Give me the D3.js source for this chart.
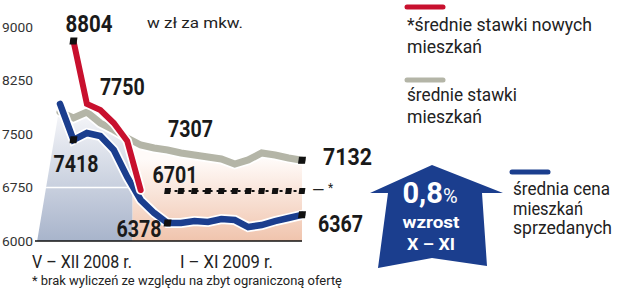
<!DOCTYPE html>
<html lang="pl">
<head>
<meta charset="UTF-8">
<title>Ceny mieszkań</title>
<script src="https://cdnjs.cloudflare.com/ajax/libs/d3/7.8.5/d3.min.js"></script>
<style>
  body { margin: 0; background: #fff; }
  text { font-family: Roboto, "Open Sans", sans-serif; }
</style>
</head>
<body>
<div id="chart"></div>
<script>
// miesiące od V 2008 (indeks 0) do XI 2009 (indeks 18)
const months = ["V","VI","VII","VIII","IX","X","XI","XII","I","II","III","IV","V","VI","VII","VIII","IX","X","XI"]
const newFlatRates = [null, 8804, 7921, 7836, 7654, 7402, 6715, null, null, null, null, null, null, null, null, null, null, null, null]
const flatRates = [7808, 7724, 7808, 7654, 7556, 7444, 7346, 7304, 7276, 7234, 7206, 7178, 7150, 7079, 7136, 7234, 7206, 7164, 7132]
const soldPrices = [7921, 7418, 7514, 7472, 7276, 6897, 6575, 6393, 6252, 6252, 6280, 6266, 6308, 6294, 6196, 6224, 6280, 6322, 6367]
const newFlat2009 = [6701, 6701, 6701, 6701, 6701, 6701, 6701, 6701, 6701, 6701, 6701]
const yTicks = [6000, 6750, 7500, 8250, 9000]
const periods = ["V – XII 2008 r.", "I – XI 2009 r."]

const W = 631, H = 297
const RED = "#c8102e", GRAY = "#b4b5a7", BLUE = "#1b3e8e"

const svg = d3.select("#chart").append("svg").attr("width", W).attr("height", H)
svg.append("rect").attr("width", W).attr("height", H).attr("fill", "#fff")

const x = d3.scaleLinear().domain([0, 18]).range([60, 302])
const y = d3.scaleLinear().domain([6000, 9000]).range([241, 27])

// cieniowanie pod liniami
const defs = svg.append("defs")
function grad(id, from, c1, c2) {
  const g = defs.append("linearGradient").attr("id", id)
    .attr("gradientUnits", "userSpaceOnUse")
    .attr("x1", 0).attr("x2", 0).attr("y1", y(from)).attr("y2", y(6000))
  g.append("stop").attr("offset", 0).attr("stop-color", c1)
  g.append("stop").attr("offset", 1).attr("stop-color", c2)
}
grad("g2008", 7800, "#f5f6f9", "#a8b4cb")
grad("g2009", 7150, "#fffbf9", "#f0c4ad")

const shadeTop = months.map((m, i) => ({ i, v: Math.max(flatRates[i], soldPrices[i]) }))
shadeTop.unshift({ i: -1.7, v: 6000 })
const area = d3.area().x(d => x(d.i)).y0(y(6000)).y1(d => y(d.v))
defs.append("clipPath").attr("id", "shade").append("path").attr("d", area(shadeTop))

const split = x(5.4)
const shade = svg.append("g").attr("clip-path", "url(#shade)")
shade.append("rect").attr("x", 0).attr("y", 0).attr("width", split).attr("height", y(6000)).attr("fill", "url(#g2008)")
shade.append("rect").attr("x", split).attr("y", 0).attr("width", x(18) - split).attr("height", y(6000)).attr("fill", "url(#g2009)")
shade.append("line").attr("x1", 0).attr("x2", split).attr("y1", y(6750)).attr("y2", y(6750))
  .attr("stroke", "#fff").attr("stroke-width", 1.5)

// oś Y
const yAxis = svg.append("g").attr("transform", "translate(34,0)")
  .call(d3.axisLeft(y).tickValues(yTicks).tickSize(0).tickPadding(1).tickFormat(d3.format("d")))
yAxis.select(".domain").remove()
yAxis.selectAll("text").attr("font-size", 13).attr("fill", "#333")
  .attr("font-family", "'Open Sans', sans-serif").attr("textLength", 31).attr("lengthAdjust", "spacingAndGlyphs")
svg.append("line").attr("x1", 35).attr("x2", x(18)).attr("y1", y(6000)).attr("y2", y(6000))
  .attr("stroke", "#111").attr("stroke-width", 1.6)

// linie
const line = d3.line().defined(d => d != null).x((d, i) => x(i)).y(d => y(d))
function drawLine(data, color, w) {
  svg.append("path").attr("d", line(data)).attr("fill", "none").attr("stroke", "#fff")
    .attr("stroke-width", w + 3.5).attr("stroke-linejoin", "miter").attr("stroke-linecap", "round")
  svg.append("path").attr("d", line(data)).attr("fill", "none").attr("stroke", color)
    .attr("stroke-width", w).attr("stroke-linejoin", "miter").attr("stroke-linecap", "round")
}
drawLine(flatRates, GRAY, 7)
drawLine(soldPrices, BLUE, 6.5)
drawLine(newFlatRates, RED, 6)

// linia przerywana 2009
const dashLine = d3.line().x((d, i) => x(i + 8)).y(d => y(d))
svg.append("path").attr("d", dashLine(newFlat2009)).attr("fill", "none").attr("stroke", "#111")
  .attr("stroke-width", 2).attr("stroke-dasharray", "3,4")
function marker(cx, cy, s) {
  svg.append("rect").attr("x", cx - s / 2).attr("y", cy - s / 2).attr("width", s).attr("height", s)
    .attr("fill", "#111").attr("transform", `skewX(-8) translate(${cy * Math.tan(8 * Math.PI / 180)},0)`)
}
newFlat2009.forEach((v, i) => marker(x(i + 8), y(v), 6))
svg.append("text").attr("x", x(18) + 10).attr("y", y(6701) + 5).attr("font-size", 16).attr("fill", "#222").text("—")
svg.append("text").attr("x", x(18) + 26).attr("y", y(6701) + 1).attr("font-size", 12).attr("fill", "#222").text("*")

// punkty z podpisami
const notes = [
  { s: newFlatRates, i: 1, dx: -8, dy: -9, w: 47, m: true },
  { s: newFlatRates, i: 2, dx: 13, dy: -9, w: 45, m: false },
  { s: flatRates, i: 7, dx: 14, dy: -11, w: 45, m: false },
  { s: soldPrices, i: 1, dx: -20, dy: 32, w: 45, m: true, label: 7418 },
  { s: newFlat2009, i: 0, off: 8, dx: -15, dy: -8, w: 45, m: false, label: 6701 },
  { s: soldPrices, i: 8, dx: -51, dy: 14, w: 45, m: true, label: 6378 },
  { s: flatRates, i: 18, dx: 21, dy: 5, w: 49, m: true, label: 7132 },
  { s: soldPrices, i: 18, dx: 16, dy: 17, w: 45, m: true, label: 6367 }
]
const labelValues = { 1: 8804, 2: 7750, 7: 7307 }
notes.forEach(n => {
  const px = x(n.i + (n.off || 0)), py = y(n.s[n.i])
  if (n.m) marker(px, py, 7)
  svg.append("text").attr("x", px + n.dx).attr("y", py + n.dy)
    .attr("font-size", 23).attr("font-weight", "bold").attr("fill", "#1a1a1a")
    .attr("textLength", n.w).attr("lengthAdjust", "spacingAndGlyphs")
    .text(n.label || labelValues[n.i])
})

// teksty
function txt(t, tx, ty, size, w, opts = {}) {
  const el = svg.append("text").attr("x", tx).attr("y", ty).attr("font-size", size)
    .attr("fill", opts.fill || "#222").text(t)
  if (w) el.attr("textLength", w).attr("lengthAdjust", "spacingAndGlyphs")
  if (opts.weight) el.attr("font-weight", opts.weight)
  if (opts.anchor) el.attr("text-anchor", opts.anchor)
  return el
}
txt("w zł za mkw.", 147, 28, 15, 96)
txt(periods[0], 32, 268, 18, 100)
txt(periods[1], 180, 268, 18, 93)
txt("* brak wyliczeń ze względu na zbyt ograniczoną ofertę", 32, 285, 12.5, 310)

// legenda
function legendBar(lx, ly, color) {
  svg.append("line").attr("x1", lx).attr("x2", lx + 36).attr("y1", ly).attr("y2", ly)
    .attr("stroke", color).attr("stroke-width", 5).attr("stroke-linecap", "round")
}
legendBar(407, 7, RED)
txt("*średnie stawki nowych", 407, 31, 18, 185)
txt("mieszkań", 407, 53, 18, 75)
legendBar(407, 80, GRAY)
txt("średnie stawki", 407, 101, 18, 110)
txt("mieszkań", 407, 123, 18, 75)
legendBar(512, 172, BLUE)
txt("średnia cena", 513, 195, 18, 97)
txt("mieszkań", 513, 215, 18, 70)
txt("sprzedanych", 513, 234, 18, 99)

// strzałka wzrostu
svg.append("path")
  .attr("d", "M432,165 L503,193 L482,193 L487,266 L432,258 L378,268 L388,193 L370,193 Z")
  .attr("fill", BLUE)
const t1 = svg.append("text").attr("x", 430).attr("y", 203).attr("text-anchor", "middle").attr("fill", "#fff")
t1.append("tspan").attr("font-size", 29).attr("font-weight", "bold").text("0,8")
t1.append("tspan").attr("font-size", 20).text("%")
txt("wzrost", 431, 228, 17, 57, { fill: "#fff", weight: "bold", anchor: "middle" })
txt("X – XI", 431, 250, 17, 48, { fill: "#fff", weight: "bold", anchor: "middle" })
</script>
</body>
</html>
